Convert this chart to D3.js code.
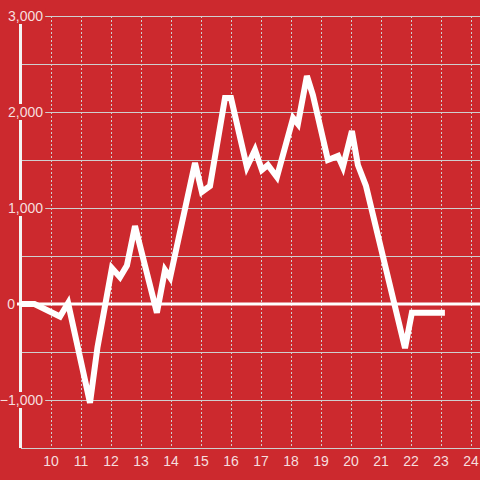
<!DOCTYPE html>
<html>
<head>
<meta charset="utf-8">
<script src="https://cdn.jsdelivr.net/npm/d3@7"></script>
<style>
html,body{margin:0;padding:0;background:#cc292e;}
svg{display:block;}
</style>
</head>
<body>
<svg id="chart" width="480" height="480"></svg>
<script>
const hours = [9, 9.45, 10.3, 10.57, 11.3, 11.55, 12.03, 12.3, 12.53, 12.8, 13.53, 13.8, 13.97, 14.8, 15.03, 15.3, 15.8, 16.0, 16.53, 16.8, 17.03, 17.23, 17.53, 18.07, 18.23, 18.53, 18.73, 19.23, 19.57, 19.73, 20.03, 20.23, 20.5, 21.8, 22.03, 23.13];
const values = [0, 0, -130, 10, -1030, -450, 375, 280, 400, 812, -90, 354, 275, 1470, 1167, 1229, 2146, 2146, 1427, 1604, 1396, 1448, 1323, 1938, 1875, 2375, 2177, 1500, 1542, 1427, 1802, 1448, 1229, -460, -90, -90];
const xTicks = [10, 11, 12, 13, 14, 15, 16, 17, 18, 19, 20, 21, 22, 23, 24];
const yGrid = [3000, 2500, 2000, 1500, 1000, 500, 0, -500, -1000, -1500];
const yLabels = [3000, 2000, 1000, 0, -1000];

const bg = "#cc292e", grid = "#cfcfcf", txt = "#f6dede";
const svg = d3.select("#chart");
svg.append("rect").attr("width", 480).attr("height", 480).attr("fill", bg);

const x = d3.scaleLinear().domain([9, 24.3]).range([21, 480]);
const y = d3.scaleLinear().domain([-1500, 3000]).range([448, 16]);
const fmt = d3.format(",");

// horizontal grid
svg.append("g").selectAll("line").data(yGrid).join("line")
  .attr("x1", x(9)).attr("x2", 480)
  .attr("y1", d => y(d) + 0.5).attr("y2", d => y(d) + 0.5)
  .attr("stroke", grid).attr("stroke-width", 1);

// vertical dotted grid
svg.append("g").selectAll("line").data(xTicks).join("line")
  .attr("x1", d => x(d) + 0.5).attr("x2", d => x(d) + 0.5)
  .attr("y1", y(3000)).attr("y2", y(-1500))
  .attr("stroke", grid).attr("stroke-width", 1).attr("stroke-dasharray", "2,2");

// y axis line
svg.append("line").attr("x1", x(9) - 0.5).attr("x2", x(9) - 0.5)
  .attr("y1", y(3000)).attr("y2", y(-1500))
  .attr("stroke", "#f4f4f4").attr("stroke-width", 3);

// y labels with background boxes
const yl = svg.append("g").attr("font-family", "'Liberation Sans', Arial, sans-serif").attr("font-size", 14).attr("fill", txt);
yLabels.forEach(v => {
  const g = yl.append("g");
  const t = g.append("text").attr("x", v === 0 ? 15 : 43).attr("y", y(v)).attr("dy", "0.36em")
    .attr("text-anchor", "end").text(fmt(v));
  const b = t.node().getBBox();
  if (v !== 0) {
    g.insert("rect", "text").attr("x", b.x - 1).attr("y", y(v) - 8).attr("width", b.width + 3).attr("height", 16).attr("fill", bg);
  }
});

// zero line
svg.append("line").attr("x1", 17).attr("x2", 480)
  .attr("y1", y(0)).attr("y2", y(0))
  .attr("stroke", "#ffffff").attr("stroke-width", 3);

// x labels
svg.append("g").attr("font-family", "'Liberation Sans', Arial, sans-serif").attr("font-size", 14).attr("fill", txt)
  .selectAll("text").data(xTicks).join("text")
  .attr("x", d => x(d)).attr("y", 466).attr("text-anchor", "middle").text(d => d);

// data line
const line = d3.line().x((d, i) => x(hours[i])).y(d => y(d));
svg.append("path").datum(values).attr("d", line)
  .attr("fill", "none").attr("stroke", "#ffffff").attr("stroke-width", 6)
  .attr("stroke-linejoin", "miter");
</script>
</body>
</html>
